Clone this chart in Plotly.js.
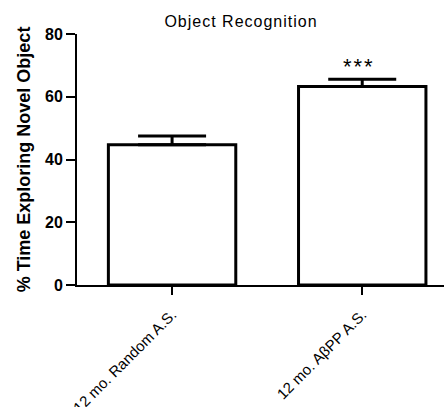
<!DOCTYPE html>
<html>
<head>
<meta charset="utf-8">
<script src="https://cdn.plot.ly/plotly-3.0.1.min.js"></script>
<style>
html, body { margin: 0; padding: 0; background: #fff; }
#chart { width: 444px; height: 407px; }
.gtitle { letter-spacing: 1px; }
.annotation-text { letter-spacing: 2px; }
</style>
</head>
<body>
<div id="chart"></div>
<script>
const chartTitle = "Object Recognition";
const yAxisTitle = "% Time Exploring Novel Object";
const categories = ["12 mo. Random A.S.", "12 mo. AβPP A.S."];
const values = [44.7, 63.3];
const errors = [2.8, 2.3];
const significance = ["", "***"];
const yTickVals = [0, 20, 40, 60, 80];

const FONT = "Arial, 'Liberation Sans', Helvetica, sans-serif";

const trace = {
  type: "bar",
  x: categories,
  y: values,
  width: 0.67,
  marker: { color: "#ffffff", line: { color: "#000000", width: 3 } },
  error_y: {
    type: "data",
    symmetric: false,
    array: errors,
    arrayminus: errors.map(() => 0),
    color: "#000000",
    thickness: 3,
    width: 34,
    visible: true
  },
  hoverinfo: "none"
};

const annotations = significance.map((s, i) => ({
  x: categories[i],
  y: values[i] + errors[i],
  xref: "x", yref: "y",
  text: s,
  showarrow: false,
  yanchor: "bottom",
  yshift: -2,
  xshift: -3,
  font: { family: FONT, size: 22, color: "#000" }
})).filter(a => a.text);

const layout = {
  width: 444,
  height: 407,
  margin: { l: 77, r: 0, t: 34, b: 122 },
  paper_bgcolor: "#ffffff",
  plot_bgcolor: "#ffffff",
  showlegend: false,
  title: {
    text: chartTitle,
    font: { family: FONT, size: 16, color: "#000" },
    x: 241 / 444,
    xref: "container",
    xanchor: "center",
    y: 1 - 21 / 407,
    yref: "container",
    yanchor: "middle"
  },
  xaxis: {
    type: "category",
    range: [-0.5, 1.43],
    showline: true,
    linecolor: "#000",
    linewidth: 2,
    ticks: "outside",
    ticklen: 8,
    tickwidth: 2,
    tickcolor: "#000",
    tickangle: -45,
    ticklabelstandoff: 5,
    tickfont: { family: FONT, size: 15, color: "#000" },
    showgrid: false,
    zeroline: false,
    fixedrange: true
  },
  yaxis: {
    range: [0, 80],
    tickvals: yTickVals,
    ticktext: yTickVals.map(String),
    showline: true,
    linecolor: "#000",
    linewidth: 2,
    ticks: "outside",
    ticklen: 9,
    tickwidth: 2,
    tickcolor: "#000",
    tickfont: { family: FONT, size: 16, color: "#000", weight: "bold" },
    showgrid: false,
    zeroline: false,
    title: {
      text: yAxisTitle,
      font: { family: FONT, size: 18, color: "#000", weight: "bold" },
      standoff: 10
    },
    fixedrange: true
  },
  annotations: annotations
};

Plotly.newPlot("chart", [trace], layout, { displayModeBar: false, staticPlot: true });
</script>
</body>
</html>
